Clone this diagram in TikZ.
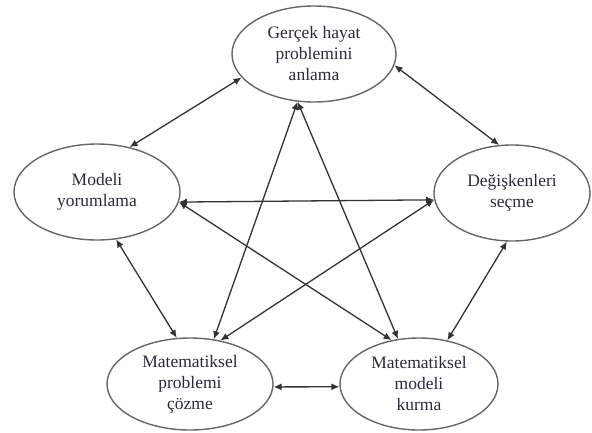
\documentclass[tikz,border=0pt]{standalone}
\usepackage{fontspec}
\setmainfont{Liberation Serif}
\usetikzlibrary{shapes.geometric,arrows.meta}
\definecolor{inkline}{HTML}{333333}
\definecolor{rimline}{HTML}{666666}
\definecolor{labeltext}{HTML}{2B2B38}
\tikzset{
  stage/.style={ellipse, draw=rimline, line width=1.4pt, inner sep=0pt,
    text=labeltext, align=center,
    font=\rmfamily\fontsize{17.5}{21}\selectfont},
  link/.style={draw=inkline, line width=1.3pt,
    {Latex[length=8pt,width=7pt]}-{Latex[length=8pt,width=7pt]}}
}
\begin{document}
\begin{tikzpicture}[x=1pt,y=-1pt]
\useasboundingbox (0,0) rectangle (592,432);
% the five stages of the modelling cycle
\node[stage, minimum width=164pt, minimum height=96pt] (T) at (314,54)
  {Gerçek hayat\\problemini\\anlama};
\node[stage, minimum width=166pt, minimum height=96pt] (L) at (97,192)
  {Modeli\\yorumlama};
\node[stage, minimum width=156pt, minimum height=96pt] (R) at (512,193)
  {Değişkenleri\\seçme};
\node[stage, minimum width=166pt, minimum height=92pt] (BL) at (190,384)
  {Matematiksel\\problemi\\çözme};
\node[stage, minimum width=158pt, minimum height=92pt] (BR) at (419,384)
  {Matematiksel\\modeli\\kurma};
% outer ring
\draw[link] (T.198) -- (L.54.5);
\draw[link] (T.352) -- (R.105.6);
\draw[link] (L.292.4) -- (BL.106.4);
\draw[link] (R.264.5) -- (BR.57.1);
\draw[link] (BL.358) -- (BR.182);
% inner star
\draw[link] (T.251) -- (BL.62.1);
\draw[link] (T.251) -- (BR.115.2);
\draw[link] (L.353) -- (R.185.2);
\draw[link] (L.353) -- (BR.122.1);
\draw[link] (R.185.2) -- (BL.55.5);
\end{tikzpicture}
\end{document}
